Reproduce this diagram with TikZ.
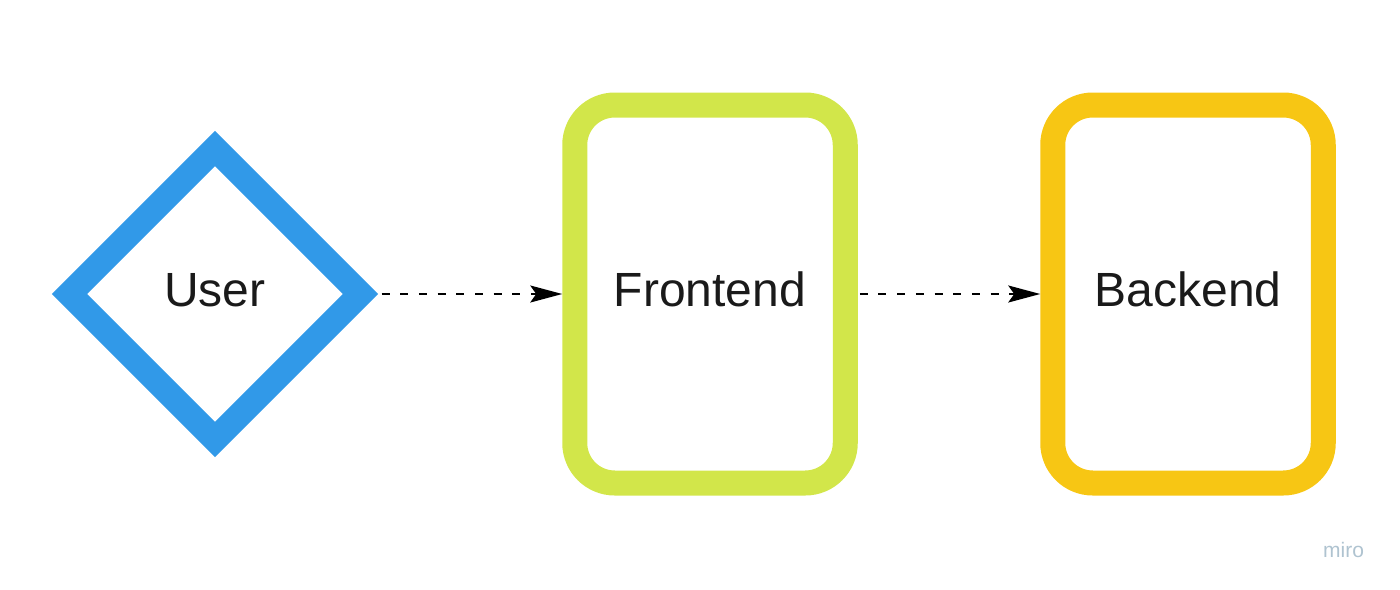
\documentclass[tikz,border=0pt]{standalone}
\usepackage{fontspec}
\setmainfont{Liberation Sans}
\usetikzlibrary{shapes.geometric,arrows.meta}
\definecolor{userblue}{HTML}{3199E8}
\definecolor{frontgreen}{HTML}{D2E64A}
\definecolor{backyellow}{HTML}{F7C614}
\definecolor{inktext}{HTML}{1A1A1A}
\definecolor{mirogray}{HTML}{AFC3D0}
\tikzset{
  lbl/.style={font=\fontsize{48}{58}\selectfont, text=inktext, text height=35pt, text depth=10pt},
  userbox/.style={diamond, aspect=1, draw=userblue, line width=25pt, miter limit=10,
     minimum width=291pt, minimum height=291pt, inner sep=0pt, outer sep=0pt, lbl},
  cardbox/.style={rectangle, rounded corners=40pt, line width=25pt,
     minimum width=270.5pt, minimum height=378pt, inner sep=0pt, lbl},
  flow/.style={line width=2pt, dash pattern=on 8pt off 10.7pt,
     -{Stealth[length=32pt, width=17pt, inset=6pt]}, black}
}
\begin{document}
\begin{tikzpicture}[x=1pt, y=-1pt]
  \useasboundingbox (0,0) rectangle (1400,589);
  \node[userbox] (user) at (215,294) {User};
  \node[cardbox, draw=frontgreen] (front) at (710,294) {Frontend};
  \node[cardbox, draw=backyellow] (back) at (1188,294) {Backend};
  \draw[flow, shorten <=21pt] (user.east) -- (front.west);
  \draw[flow, shorten <=2pt] (front.east) -- (back.west);
  \node[anchor=base west, inner sep=0pt, font=\fontsize{21}{26}\selectfont, text=mirogray] (miro) at (1323,557) {miro};
\end{tikzpicture}
\end{document}
